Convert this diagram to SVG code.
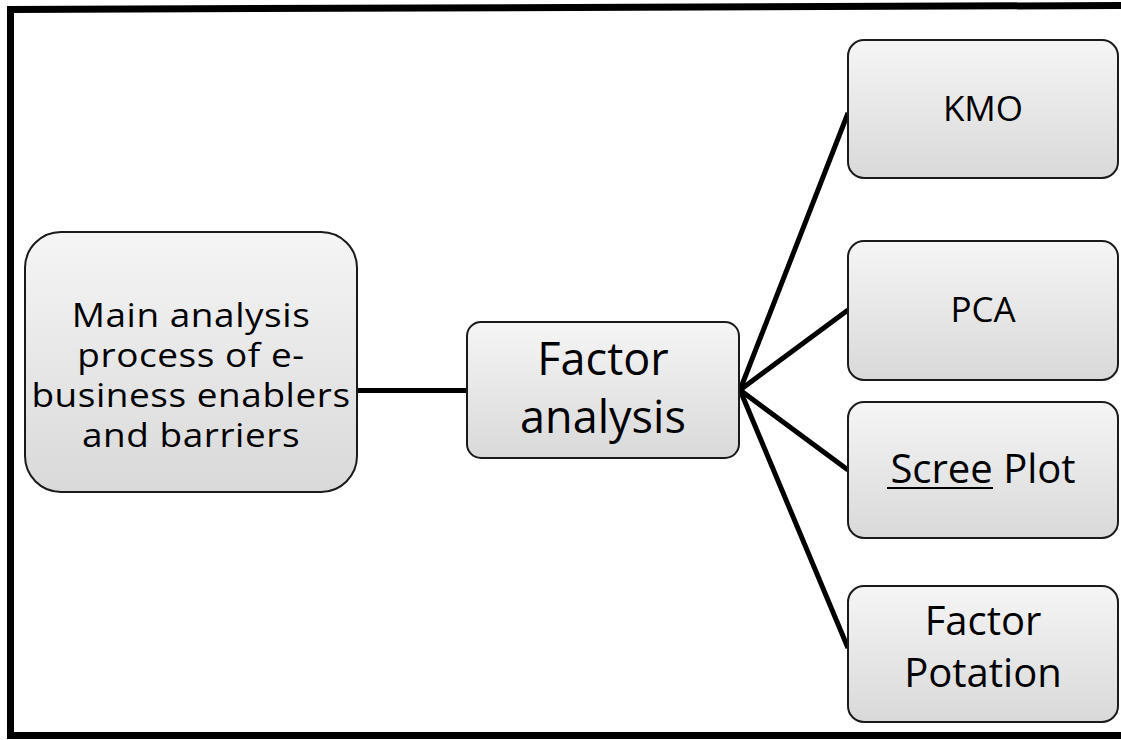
<svg xmlns="http://www.w3.org/2000/svg" width="1121" height="740" viewBox="0 0 1121 740">
<style>
.box{stroke:#1a1a1a;stroke-width:2;fill:url(#g)}
.t{font-family:"Open Sans","Liberation Sans",sans-serif;fill:#000;text-anchor:middle}
.c{stroke:#000;stroke-width:5;fill:none;stroke-linecap:butt}
</style>
<defs>
<linearGradient id="g" x1="0" y1="0" x2="0" y2="1">
<stop offset="0" stop-color="#f5f5f5"/>
<stop offset="1" stop-color="#d9d9d9"/>
</linearGradient>
</defs>
<rect width="1121" height="740" fill="#fff"/>
<path d="M1121 5.5 L10.5 9.5 L10.5 735.5 L1121 735.5" fill="none" stroke="#000" stroke-width="7"/>
<g id="connectors">
<line class="c" x1="357" y1="390.5" x2="467" y2="390.5"/>
<line class="c" x1="740" y1="390" x2="848" y2="113"/>
<line class="c" x1="740" y1="390" x2="848" y2="310"/>
<line class="c" x1="740" y1="390" x2="848" y2="470"/>
<line class="c" x1="740" y1="390" x2="848" y2="648"/>
</g>
<g id="main">
<rect class="box" x="25" y="232" width="332" height="260" rx="36"/>
<g transform="translate(191 0) scale(1.12 1) translate(-191 0)">
<text class="t" font-size="33" letter-spacing="0.5"><tspan x="191" y="327">Main analysis</tspan><tspan x="191" y="367">process of e-</tspan><tspan x="191" y="407">business enablers</tspan><tspan x="191" y="447">and barriers</tspan></text>
</g>
</g>
<g id="factor">
<rect class="box" x="467" y="322" width="272" height="136" rx="14"/>
<text class="t" font-size="45"><tspan x="603" y="375">Factor</tspan><tspan x="603" y="433">analysis</tspan></text>
</g>
<g id="kmo">
<rect class="box" x="848" y="40" width="270" height="138" rx="16"/>
<text class="t" font-size="35" x="983" y="121">KMO</text>
</g>
<g id="pca">
<rect class="box" x="848" y="241" width="270" height="139" rx="16"/>
<text class="t" font-size="35" x="983" y="322">PCA</text>
</g>
<g id="scree">
<rect class="box" x="848" y="402" width="270" height="136" rx="16"/>
<text class="t" font-size="40" x="983" y="483">Scree Plot</text>
<line x1="887" y1="488" x2="993" y2="488" stroke="#000" stroke-width="2"/>
</g>
<g id="rotation">
<rect class="box" x="848" y="586" width="270" height="136" rx="16"/>
<text class="t" font-size="40"><tspan x="983" y="635">Factor</tspan><tspan x="983" y="687">Potation</tspan></text>
</g>
</svg>
